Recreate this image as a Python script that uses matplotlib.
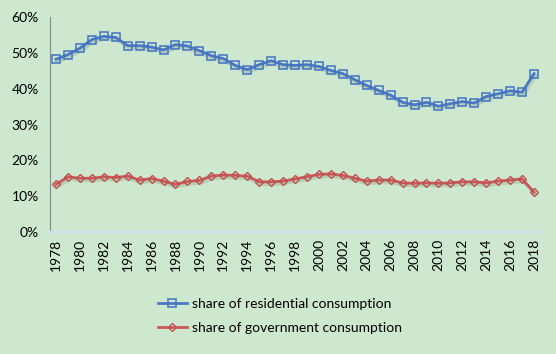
import matplotlib
matplotlib.use("Agg")
import matplotlib.pyplot as plt
import matplotlib.patheffects as pe
from matplotlib.lines import Line2D
from matplotlib.ticker import FuncFormatter

years = list(range(1978, 2019))
residential = [48.2, 49.5, 51.3, 53.7, 54.6, 54.3, 52.0, 52.0, 51.6, 50.8,
               52.3, 51.9, 50.6, 49.2, 48.4, 46.5, 45.3, 46.7, 47.8, 46.7,
               46.5, 46.7, 46.2, 45.1, 44.2, 42.5, 40.9, 39.5, 38.2, 36.2,
               35.5, 36.2, 35.1, 35.8, 36.4, 36.0, 37.8, 38.6, 39.4, 39.0,
               44.2]
government = [13.3, 15.4, 15.0, 15.0, 15.4, 15.2, 15.6, 14.5, 14.9, 14.2,
              13.3, 14.1, 14.4, 15.6, 15.9, 15.8, 15.6, 14.0, 14.0, 14.2,
              14.8, 15.4, 16.1, 16.2, 15.8, 15.0, 14.2, 14.5, 14.5, 13.7,
              13.6, 13.7, 13.6, 13.7, 14.0, 14.0, 13.7, 14.2, 14.5, 14.8,
              11.1]

bg = "#cde8cf"
plt.rcParams['font.family'] = ['Lato', 'DejaVu Sans']

fig = plt.figure(figsize=(5.56, 3.54), dpi=100, facecolor=bg)
ax = fig.add_axes([50 / 556, 122 / 354, 490 / 556, 215 / 354])
ax.set_facecolor(bg)

shadow = [pe.SimpleLineShadow(offset=(1, -1.5), shadow_color="#7a9a7c", alpha=0.3, linewidth=3),
          pe.Normal()]

blue, red = "#4a78c2", "#c9585a"
# lines with soft shadow, markers drawn on top without it
ax.plot(years, residential, color=blue, lw=2, path_effects=shadow)
ax.plot(years, government, color=red, lw=2, path_effects=shadow)
ax.plot(years, residential, ls="none", marker="s", markersize=6.3,
        markerfacecolor="none", markeredgecolor="#4472c4", markeredgewidth=1.1)
ax.plot(years, government, ls="none", marker="D", markersize=4.5,
        markerfacecolor="none", markeredgecolor="#c0504d", markeredgewidth=1.0)

ax.set_xlim(1977.5, 2018.5)
ax.set_ylim(0, 60)
ax.set_yticks(range(0, 61, 10))
ax.yaxis.set_major_formatter(FuncFormatter(lambda v, p: "%d%%" % v))
ax.set_xticks(years[::2])
ax.set_xticklabels([str(y) for y in years[::2]], rotation=90)
ax.tick_params(axis="both", length=0, labelsize=10, colors="black")
ax.tick_params(axis="y", pad=8)
ax.tick_params(axis="x", pad=5)

for s in ["top", "right"]:
    ax.spines[s].set_visible(False)
ax.spines["left"].set_color("#888888")
ax.spines["bottom"].set_color("#d3dbee")
ax.spines["bottom"].set_linewidth(1.5)

handles = [
    Line2D([], [], color=blue, lw=2, marker="s", markersize=5.5, markerfacecolor="none",
           markeredgecolor="#4472c4", markeredgewidth=1.1),
    Line2D([], [], color=red, lw=2, marker="D", markersize=4, markerfacecolor="none",
           markeredgecolor="#c0504d", markeredgewidth=1.0),
]
labels = ["share of residential consumption", "share of government consumption"]
fig.legend(handles, labels, loc="center left", bbox_to_anchor=(152 / 556, 1 - 316 / 354),
           frameon=False, fontsize=10, handlelength=2.1, handletextpad=0.35,
           labelspacing=0.85, borderaxespad=0)

fig.savefig("out.png", dpi=100, facecolor=bg)
